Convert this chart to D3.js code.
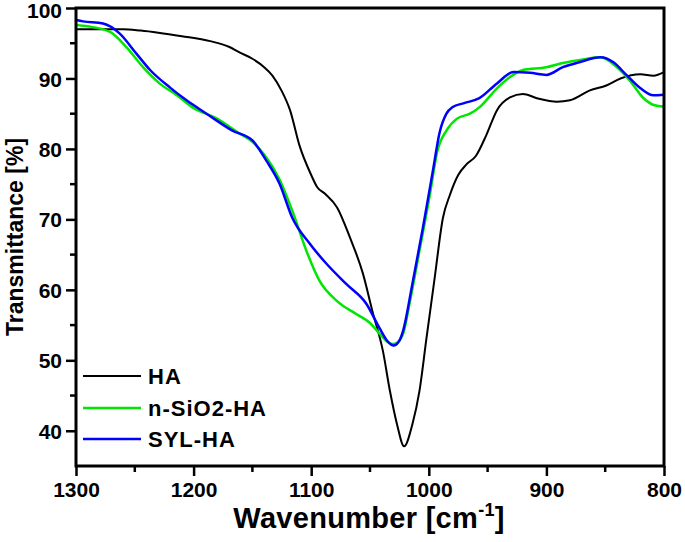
<!DOCTYPE html>
<html><head><meta charset="utf-8">
<script src="https://cdn.jsdelivr.net/npm/d3@7"></script>
<style>
body{margin:0;background:#fff;}
text{font-family:"Liberation Sans",Arial,sans-serif;font-weight:bold;fill:#000;}
</style></head>
<body><svg id="c" width="685" height="542"></svg>
<script>
const haWn = [1300,1290,1275,1260,1245,1230,1210,1186,1170,1161,1150,1140,1133,1125,1118,1110,1100,1095,1088,1078,1067,1056,1048,1039,1033,1027,1021,1014,1008,1002,995,988,982,975,968,960,951,942,931,920,908,891,880,863,849,837,820,809,800];
const haT  = [97.0,97.0,97.0,97.0,96.8,96.5,96.0,95.3,94.5,93.7,92.8,91.6,90.4,88.2,85.5,80.5,76.3,74.6,73.6,71.7,67.4,62.3,57.0,51.3,45.6,40.9,37.8,40.9,45.6,53.1,61.7,70.2,73.5,76.3,77.8,79.0,82.0,85.5,87.3,87.8,87.2,86.7,86.9,88.3,89.0,90.0,90.6,90.4,90.9];

const siWn = [1300,1290,1271,1257,1243,1229,1214,1201,1180,1163,1150,1140,1127,1116,1104,1093,1078,1061,1050,1042,1035,1030,1025,1022,1016,1008,999,993,985,976,965,957,942,931,920,900,886,869,854,840,829,818,808,800];
const siT  = [97.6,97.4,96.6,94.4,91.6,89.3,87.6,85.9,84.3,82.4,81.0,79.2,75.7,71.2,65.5,61.3,58.4,56.5,55.3,53.8,52.6,52.3,52.8,53.7,58.4,65.5,73.6,79.5,82.6,84.3,85.0,85.9,88.6,90.2,91.2,91.6,92.2,92.7,93.0,91.6,89.7,87.3,86.2,86.0];

const sylWn = [1300,1294,1277,1263,1249,1237,1220,1206,1189,1167,1150,1138,1127,1116,1101,1087,1070,1053,1042,1035,1030,1025,1022,1014,1005,996,991,985,980,970,957,942,928,914,900,886,872,854,843,832,820,809,800];
const sylT  = [98.3,98.1,97.8,96.4,93.6,91.2,88.7,86.9,85.0,82.6,81.2,78.3,75.1,70.2,66.5,63.7,60.8,58.0,54.6,52.7,52.1,52.8,54.1,60.8,68.8,77.4,82.2,85.0,85.9,86.5,87.2,89.3,90.9,90.8,90.5,91.6,92.3,93.0,92.3,90.5,88.6,87.6,87.7];

const seriesNames = ["HA","n-SiO2-HA","SYL-HA"];
const seriesColors = ["#000000","#00e600","#0000ff"];
const xTicks = [1300,1200,1100,1000,900,800];
const yTicks = [40,50,60,70,80,90,100];

const svg = d3.select("#c");
const L=76,R=664,T=8,B=466;
const x = d3.scaleLinear().domain([1300,800]).range([L,R]);
const y = d3.scaleLinear().domain([35,100]).range([B,T]);

const series = [
  {name:seriesNames[0],color:seriesColors[0],w:2,pts:haWn.map((d,i)=>[d,haT[i]])},
  {name:seriesNames[1],color:seriesColors[1],w:2.5,pts:siWn.map((d,i)=>[d,siT[i]])},
  {name:seriesNames[2],color:seriesColors[2],w:2.5,pts:sylWn.map((d,i)=>[d,sylT[i]])}
];
const line = d3.line().x(d=>x(d[0])).y(d=>y(d[1])).curve(d3.curveMonotoneX);
svg.append("g").selectAll("path").data(series).join("path")
  .attr("d",d=>line(d.pts)).attr("fill","none")
  .attr("stroke",d=>d.color).attr("stroke-width",d=>d.w).attr("stroke-linejoin","round");

// axes
const xAxis = d3.axisBottom(x).tickValues(xTicks).tickFormat(d3.format("d")).tickSize(10).tickPadding(6);
const gx = svg.append("g").attr("transform",`translate(0,${B})`).call(xAxis);
const yAxis = d3.axisLeft(y).tickValues(yTicks).tickFormat(d3.format("d")).tickSize(10).tickPadding(4);
const gy = svg.append("g").attr("transform",`translate(${L},0)`).call(yAxis);
[gx,gy].forEach(g=>{
  g.select(".domain").remove();
  g.selectAll(".tick line").attr("stroke","#000").attr("stroke-width",2.5);
  g.selectAll(".tick text").style("font-size","21px").attr("fill","#000");
});
gy.selectAll(".tick text").attr("dy",d=>d===100?"0.45em":"0.36em");
// minor ticks
const xMinor = d3.range(1250,800,-100);
svg.append("g").selectAll("line").data(xMinor).join("line")
  .attr("x1",d=>x(d)).attr("x2",d=>x(d)).attr("y1",B).attr("y2",B+6)
  .attr("stroke","#000").attr("stroke-width",2.5);
const yMinor = d3.range(45,100,10);
svg.append("g").selectAll("line").data(yMinor).join("line")
  .attr("y1",d=>y(d)).attr("y2",d=>y(d)).attr("x1",L).attr("x2",L-6)
  .attr("stroke","#000").attr("stroke-width",2.5);
// frame
svg.append("rect").attr("x",L).attr("y",T).attr("width",R-L).attr("height",B-T)
  .attr("fill","none").attr("stroke","#000").attr("stroke-width",3);

// titles
const xt = svg.append("text").attr("x",(L+R)/2-1).attr("y",528).attr("text-anchor","middle")
  .style("font-size","29px").style("letter-spacing","0.3px");
xt.append("tspan").text("Wavenumber [cm");
xt.append("tspan").text("-1").style("font-size","18px").attr("dy","-12");
xt.append("tspan").text("]").attr("dy","12");
svg.append("text").attr("transform","translate(23,237) rotate(-90)").attr("text-anchor","middle")
  .style("font-size","23px").text("Transmittance [%]");

// legend
const ly = [376,408,439];
const lg = svg.append("g");
series.forEach((s,i)=>{
  lg.append("line").attr("x1",83).attr("x2",141).attr("y1",ly[i]).attr("y2",ly[i])
    .attr("stroke",s.color).attr("stroke-width",s.w);
  lg.append("text").attr("x",148).attr("y",ly[i]).attr("dy","0.36em")
    .style("font-size","22px").style("letter-spacing","1px").text(s.name);
});
</script></body></html>
